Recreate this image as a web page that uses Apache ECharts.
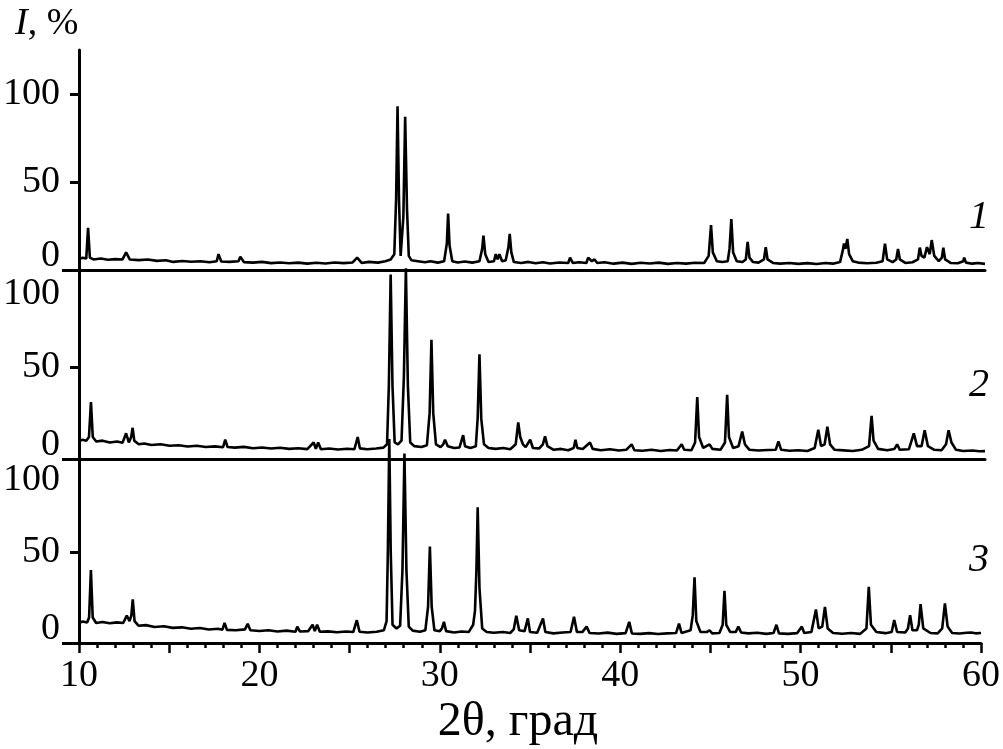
<!DOCTYPE html>
<html>
<head>
<meta charset="utf-8">
<script src="https://cdn.jsdelivr.net/npm/echarts@6/dist/echarts.min.js"></script>
<style>
html,body{margin:0;padding:0;background:#fff;}
#chart{width:1003px;height:749px;}
</style>
</head>
<body>
<div id="chart"></div>
<script>
// ---- data ----
const xTickLabels = [10, 20, 30, 40, 50, 60];
const yLabelsPanel1 = [50, 100];
const yLabelsTop = [100];
const yLabelsMid = [50];
const panelNames = ['1', '2', '3'];
const xAxisTitle = '2θ, град';

const pattern1 = [[10.0,6],[10.2,7],[10.4,6.5],[10.5,24],[10.6,7],[10.8,6],[11.2,6.5],[11.6,5.8],[12.0,6.2],[12.4,6],[12.6,10],[12.8,6],[13.3,5.6],[13.8,6],[14.3,5.2],[14.8,5.5],[15.2,4.6],[15.7,5.1],[16.2,4.7],[16.7,5],[17.2,4.4],[17.6,5],[17.7,9],[17.85,4.8],[18.3,4.6],[18.8,5],[18.9,7.5],[19.1,4.5],[19.6,4.2],[20.1,4.6],[20.6,3.9],[21.1,4.3],[21.6,3.8],[22.1,4.2],[22.6,3.6],[23.1,4.1],[23.6,3.7],[24.1,4.3],[24.6,3.9],[25.1,4.3],[25.35,7],[25.6,4],[26.0,4.6],[26.5,4.2],[26.9,5],[27.2,6],[27.4,9],[27.5,40],[27.58,93],[27.66,40],[27.75,8],[27.82,7],[27.9,30],[28.0,87],[28.1,35],[28.2,8],[28.35,5.5],[28.7,5],[29.1,4.4],[29.4,5],[29.8,4.2],[30.15,5],[30.3,15],[30.37,32],[30.45,14],[30.6,5],[30.9,4.3],[31.3,4.8],[31.7,4.2],[32.1,5],[32.25,12],[32.32,19.5],[32.42,9],[32.6,4.5],[32.9,5],[33.0,9],[33.1,6],[33.2,9],[33.35,5],[33.55,5.5],[33.7,13],[33.77,20.5],[33.86,10],[34.0,4.5],[34.4,4],[34.8,4.6],[35.2,3.8],[35.6,4.4],[36.0,3.7],[36.5,4.3],[37.0,4],[37.1,7],[37.25,4],[37.6,4.4],[38.0,4],[38.1,7],[38.3,5],[38.45,6],[38.6,4],[39.0,4.4],[39.5,3.6],[40.0,4.2],[40.5,3.5],[41.0,4.1],[41.5,3.7],[42.0,4.2],[42.5,3.5],[43.0,4],[43.5,3.6],[44.0,4.1],[44.5,4],[44.75,8],[44.88,25.5],[44.98,10],[45.2,5],[45.5,4.5],[45.8,5],[45.9,12],[46.0,29],[46.1,10],[46.3,5],[46.6,4.5],[46.8,6],[46.9,16],[47.0,7],[47.2,4.5],[47.5,4.2],[47.8,6],[47.9,13],[48.0,6],[48.3,4],[48.7,3.6],[49.2,4],[49.7,3.5],[50.2,3.9],[50.7,3.4],[51.2,4],[51.6,3.6],[52.0,4.5],[52.15,11],[52.22,15],[52.3,12],[52.4,17.6],[52.5,9],[52.7,5],[53.0,4.2],[53.5,3.8],[54.0,4.1],[54.35,5],[54.48,15],[54.6,6],[54.9,4.5],[55.1,6],[55.2,12],[55.3,6],[55.6,4],[56.0,4.4],[56.3,6],[56.4,12.7],[56.5,8],[56.65,7],[56.8,13],[56.95,9],[57.06,17],[57.2,8],[57.45,5],[57.62,7],[57.7,12.7],[57.8,6],[58.1,4],[58.5,3.8],[58.8,5],[58.85,7],[58.95,4.2],[59.3,3.6],[59.6,4],[60,3.5]];

const pattern2 = [[10,10],[10.2,10.5],[10.4,10],[10.55,12],[10.66,31],[10.76,12],[10.95,9.5],[11.3,10],[11.7,9],[12.1,9.5],[12.4,8.8],[12.6,14],[12.75,9],[12.88,12],[12.96,17],[13.05,10],[13.3,8],[13.6,8.4],[14.0,7.6],[14.5,8],[15.0,7.2],[15.5,7.5],[16.0,6.8],[16.5,7.2],[17.0,6.5],[17.5,6.9],[17.95,6.4],[18.07,10.5],[18.2,6.5],[18.6,6.2],[19.1,6.6],[19.6,5.9],[20.1,6.3],[20.6,5.7],[21.1,6.1],[21.6,5.5],[22.1,5.9],[22.6,5.4],[22.95,9],[23.07,5.6],[23.2,9],[23.35,5.3],[23.8,5.7],[24.3,5.2],[24.8,5.6],[25.2,5.3],[25.38,12],[25.5,5.8],[25.9,5.3],[26.4,5.7],[26.8,6.2],[27.0,8],[27.1,40],[27.2,100.5],[27.3,40],[27.42,9],[27.6,8],[27.8,10],[27.93,45],[28.04,104],[28.15,40],[28.28,9],[28.5,7],[28.9,6.5],[29.2,7.5],[29.35,25],[29.45,65],[29.55,25],[29.7,8],[29.95,6.5],[30.1,8],[30.2,10.5],[30.35,7],[30.7,6],[31.0,6.3],[31.2,13],[31.3,7],[31.6,6],[31.9,7],[32.0,22],[32.1,57],[32.2,22],[32.35,8],[32.6,6],[33.0,5.5],[33.4,6],[33.8,5.3],[34.1,8],[34.24,20],[34.35,12],[34.5,8],[34.65,6.5],[34.9,10.5],[35.05,6],[35.4,5.8],[35.6,8],[35.72,12.4],[35.85,7],[36.2,5],[36.6,5.5],[37.0,4.8],[37.3,6],[37.4,10.5],[37.5,6],[37.8,5.5],[38.2,9],[38.35,5.5],[38.8,4.8],[39.3,5.3],[39.8,4.6],[40.2,5],[40.5,8],[40.65,4.8],[41.1,4.5],[41.6,5],[42.1,4.4],[42.6,4.9],[43.0,4.6],[43.26,8],[43.4,5],[43.8,4.8],[44.0,9],[44.12,33.7],[44.22,12],[44.45,6],[44.8,8],[44.95,5.5],[45.4,5],[45.65,9],[45.77,35],[45.87,12],[46.1,6],[46.4,7],[46.6,15],[46.75,8],[47.0,5],[47.5,4.6],[48.0,4.9],[48.45,5],[48.6,9.6],[48.75,5],[49.2,4.5],[49.7,4.8],[50.2,4.4],[50.6,6],[50.8,16],[50.95,7],[51.15,8],[51.3,17.6],[51.45,8],[51.7,5],[52.2,4.7],[52.7,4.4],[53.2,5],[53.6,7],[53.74,23.5],[53.85,10],[54.1,5.5],[54.6,4.8],[55.0,5.5],[55.15,8],[55.3,5],[55.8,5.3],[56.07,14],[56.25,7],[56.5,7],[56.67,15.7],[56.85,7],[57.2,5],[57.6,4.8],[57.85,8],[57.99,15.7],[58.15,9],[58.4,5],[58.8,4.4],[59.3,4.6],[59.7,4.2],[60,4.3]];

const pattern3 = [[10,11],[10.2,11.8],[10.45,11.2],[10.56,14],[10.66,40],[10.76,14],[10.95,11],[11.3,11.5],[11.7,10.8],[12.1,11.3],[12.45,11],[12.65,15],[12.8,12],[12.9,15],[12.98,24],[13.08,12],[13.3,9.5],[13.7,9.8],[14.2,8.8],[14.7,9.2],[15.2,8.3],[15.7,8.6],[16.2,7.8],[16.7,8.2],[17.2,7.4],[17.7,7.8],[17.95,7.3],[18.07,11],[18.2,7.2],[18.7,7],[19.2,7.5],[19.35,10.5],[19.5,7],[20.0,6.6],[20.5,7],[21.0,6.3],[21.5,6.8],[22.0,6.2],[22.1,9],[22.25,6.3],[22.7,6.5],[22.95,10],[23.07,6.5],[23.2,10],[23.35,6.2],[23.8,6.4],[24.3,5.9],[24.8,6.3],[25.2,6],[25.4,12.5],[25.55,6.2],[26.0,5.8],[26.5,6.2],[26.9,7],[27.05,12],[27.12,50],[27.2,112],[27.28,50],[27.38,10],[27.6,8],[27.8,9.5],[27.93,40],[28.04,104],[28.15,40],[28.28,9],[28.5,6.8],[28.9,6.2],[29.2,7],[29.35,20],[29.45,53],[29.55,20],[29.7,7],[30.0,6.5],[30.12,8],[30.23,11.6],[30.35,6.5],[30.8,5.8],[31.2,6.3],[31.6,6],[31.85,10],[31.95,17.6],[32.03,40],[32.1,74.5],[32.2,30],[32.35,8],[32.6,6],[33.0,5.6],[33.5,6],[33.9,5.5],[34.1,7.5],[34.24,15],[34.4,7],[34.7,6.5],[34.88,13.5],[35.0,6],[35.4,5.6],[35.72,13.5],[35.85,6],[36.3,5.3],[36.8,5.8],[37.25,6],[37.44,14.4],[37.6,6],[37.9,6],[38.14,9],[38.3,5.5],[38.8,5.2],[39.3,5.7],[39.8,5],[40.3,5.4],[40.5,11.6],[40.65,5.2],[41.1,5],[41.6,5.4],[42.1,4.9],[42.6,5.3],[43.1,5.5],[43.26,10.7],[43.4,5.5],[43.9,7],[44.02,15],[44.12,36],[44.22,12],[44.45,6],[44.8,6],[44.95,7],[45.1,5.3],[45.5,5.5],[45.68,10],[45.78,28.6],[45.88,10],[46.1,6],[46.4,6],[46.55,9],[46.7,5.8],[47.1,5.3],[47.6,5.6],[48.1,5],[48.5,5.5],[48.66,10],[48.8,5.3],[49.3,5],[49.8,5.4],[50.07,9],[50.2,5.5],[50.6,6],[50.85,18.4],[51.0,8],[51.2,9],[51.35,19.8],[51.5,8],[51.8,5.5],[52.3,5.1],[52.8,5.5],[53.3,5],[53.65,8],[53.78,30.8],[53.9,10],[54.2,6],[54.7,5.4],[55.05,6],[55.19,12.6],[55.35,6],[55.8,5.8],[55.95,8],[56.07,15.3],[56.2,7],[56.45,7],[56.55,10],[56.65,21.3],[56.8,8],[57.2,5.5],[57.6,5.3],[57.85,8],[58.0,21.7],[58.15,9],[58.4,5.5],[58.8,5.2],[59.2,5.6],[59.45,5.8],[59.7,5.3],[60,5.5]];

const patterns = [pattern1, pattern2, pattern3];

// ---- layout / style ----
const FONT = "'Liberation Serif', 'Times New Roman', serif";
const LABEL_SIZE = 38;
const GRIDS = [
  {top: 50, height: 220, max: 125},
  {top: 270, height: 189, max: 103},
  {top: 459, height: 184, max: 101}
];
const LEFT = 74, WIDTH = 911;
const black = '#000';

const labelStyle = {color: black, fontFamily: FONT, fontSize: LABEL_SIZE, margin: 19};

const grid = GRIDS.map(g => ({left: LEFT, top: g.top, width: WIDTH, height: g.height, containLabel: false}));

const xAxis = GRIDS.map((g, i) => {
  const bottom = i === GRIDS.length - 1;
  return {
    type: 'value', gridIndex: i, min: 10, max: 60, interval: 5,
    axisLine: {show: true, onZero: false, lineStyle: {color: black, width: 3}},
    axisTick: {show: bottom, length: 10, lineStyle: {color: black, width: 2.5}},
    minorTick: {show: bottom, splitNumber: 5, length: 5, lineStyle: {color: black, width: 2.5}},
    axisLabel: bottom ? {show: true, customValues: xTickLabels, color: black, fontFamily: FONT, fontSize: LABEL_SIZE, margin: 14} : {show: false},
    splitLine: {show: false},
    name: bottom ? xAxisTitle : '',
    nameLocation: 'middle',
    nameGap: 55,
    nameTextStyle: {color: black, fontFamily: FONT, fontSize: 48, padding: [0, 24, 0, 0]}
  };
});

const yAxis = [];
const seriesYIndex = [];
GRIDS.forEach((g, i) => {
  const base = {type: 'value', gridIndex: i, min: 0, max: g.max, position: 'left', splitLine: {show: false}};
  // main axis: line, mid ticks and labels
  seriesYIndex.push(yAxis.length);
  yAxis.push(Object.assign({}, base, {
    axisLine: {show: true, lineStyle: {color: black, width: 3}},
    axisTick: {show: true, customValues: i === 0 ? yLabelsPanel1 : yLabelsMid, length: 9, lineStyle: {color: black, width: 3}},
    axisLabel: Object.assign({show: true, customValues: i === 0 ? yLabelsPanel1 : yLabelsMid, verticalAlign: 'middle'}, labelStyle)
  }));
  // zero axis: long tick + label sitting just above
  yAxis.push(Object.assign({}, base, {
    axisLine: {show: false},
    axisTick: {show: true, customValues: [0], length: 17, lineStyle: {color: black, width: 3}},
    axisLabel: Object.assign({show: true, customValues: [0], verticalAlign: 'bottom', lineHeight: 28}, labelStyle)
  }));
  if (i > 0) {
    yAxis.push(Object.assign({}, base, {
      axisLine: {show: false},
      axisTick: {show: false},
      axisLabel: Object.assign({show: true, customValues: yLabelsTop, verticalAlign: 'top'}, labelStyle)
    }));
  }
});

const series = patterns.map((p, i) => ({
  type: 'line', xAxisIndex: i, yAxisIndex: seriesYIndex[i],
  data: p, showSymbol: false, symbol: 'none', clip: false,
  lineStyle: {color: black, width: 2.6}, z: 1
}));

const panelTops = [192, 360, 535];
const title = [
  {text: '{i|I}, %', left: 10, top: 0,
   textStyle: {color: black, fontFamily: FONT, fontSize: LABEL_SIZE, fontWeight: 'normal',
     rich: {i: {fontStyle: 'italic', fontFamily: FONT, fontSize: LABEL_SIZE, color: black}}}}
].concat(panelNames.map((n, i) => ({
  text: n, left: 964, top: panelTops[i],
  textStyle: {color: black, fontFamily: FONT, fontSize: 40, fontStyle: 'italic', fontWeight: 'normal'}
})));

const chart = echarts.init(document.getElementById('chart'), null, {renderer: 'canvas'});
chart.setOption({
  animation: false,
  backgroundColor: '#fff',
  title: title,
  grid: grid,
  xAxis: xAxis,
  yAxis: yAxis,
  series: series
});
</script>
</body>
</html>
